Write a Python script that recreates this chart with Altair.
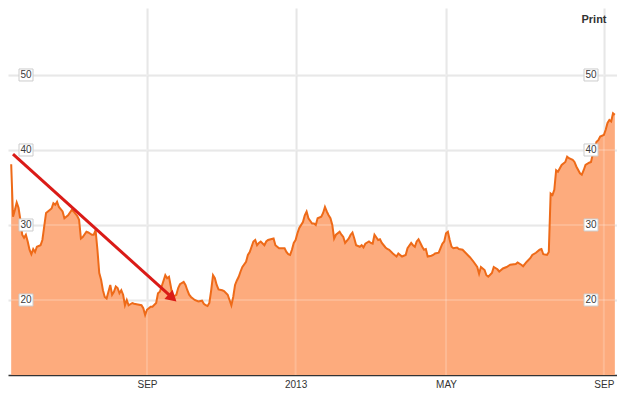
import altair as alt
import pandas as pd

# Trading-day number (0 = first trading day shown) and closing price
trading_day = [
    0, 1, 2, 3, 4, 5, 6, 7, 8, 9, 10, 11, 12, 13, 14, 16, 17, 18, 19, 21,
    22, 23, 24, 25, 26, 28, 29, 31, 33, 34, 36, 37, 38, 39, 41, 42, 44, 45, 46, 47,
    48, 49, 50, 51, 52, 53, 54, 55, 56, 57, 58, 59, 60, 61, 62, 63, 64, 66, 67, 69,
    71, 72, 73, 74, 76, 77, 79, 80, 81, 82, 84, 85, 86, 87, 88, 90, 91, 92, 94, 95,
    96, 97, 98, 100, 102, 104, 105, 106, 107, 108, 109, 110, 111, 112, 113, 115, 116, 118, 119, 120,
    121, 122, 123, 124, 125, 126, 128, 129, 130, 132, 133, 134, 135, 136, 138, 139, 140, 143, 144, 146,
    149, 150, 151, 152, 153, 154, 155, 156, 157, 159, 160, 161, 162, 164, 165, 166, 167, 169, 170, 171,
    172, 173, 174, 175, 176, 177, 179, 180, 181, 182, 184, 185, 186, 187, 188, 190, 191, 192, 193, 195,
    196, 197, 198, 200, 201, 202, 204, 205, 206, 208, 209, 210, 211, 213, 215, 216, 218, 219, 220, 221,
    222, 223, 224, 225, 226, 227, 229, 230, 231, 233, 234, 235, 236, 237, 238, 239, 240, 241, 243, 244,
    246, 248, 250, 252, 254, 255, 256, 258, 259, 260, 262, 263, 265, 266, 268, 270, 272, 275, 276, 278,
    279, 281, 283, 284, 286, 288, 289, 290, 292, 293, 294, 295, 296, 297, 298, 300, 302, 303, 304, 306,
    307, 308, 310, 311, 312, 313, 315, 316, 317, 319, 320, 321, 323, 324, 325, 326, 327, 328, 329,
]
close = [
    38.1, 31.1, 32.0, 33.0, 32.3, 30.7, 28.7, 28.3, 28.7, 27.8, 26.7, 26.1, 26.8, 26.4, 27.1, 27.3, 28.0, 29.8, 31.6, 32.0,
    32.2, 32.9, 32.7, 33.1, 32.4, 31.8, 30.9, 31.3, 32.0, 31.8, 31.2, 30.7, 28.2, 28.4, 29.1, 29.0, 28.7, 28.7, 29.3, 26.7,
    23.6, 22.7, 21.3, 20.4, 20.2, 21.1, 22.0, 20.7, 21.1, 21.8, 21.6, 20.9, 21.3, 20.7, 19.3, 20.0, 19.3, 19.6, 19.5, 19.4,
    19.3, 18.9, 18.0, 18.7, 19.1, 19.1, 19.6, 20.9, 21.1, 21.8, 23.3, 22.9, 23.1, 21.8, 20.4, 20.7, 21.6, 22.1, 22.4, 22.0,
    21.3, 20.7, 20.4, 20.0, 19.8, 19.9, 19.5, 19.3, 19.2, 19.6, 21.3, 23.3, 22.9, 22.0, 21.4, 21.3, 21.2, 20.7, 20.0, 19.3,
    20.4, 22.0, 22.6, 23.1, 23.8, 24.4, 25.1, 26.0, 26.4, 27.8, 28.0, 27.3, 27.6, 27.8, 27.3, 27.8, 28.0, 28.2, 27.3, 26.9,
    26.9, 26.4, 26.1, 26.0, 26.7, 27.6, 28.0, 28.9, 29.6, 30.4, 31.3, 31.8, 30.9, 30.2, 30.2, 30.0, 30.9, 31.1, 31.6, 32.4,
    31.8, 31.3, 30.9, 30.0, 28.2, 28.7, 29.1, 28.7, 28.4, 27.6, 28.2, 28.7, 29.0, 28.2, 27.3, 27.1, 27.3, 27.0, 27.5, 27.8,
    27.6, 27.5, 28.7, 28.0, 28.1, 27.6, 27.0, 26.8, 26.7, 26.2, 26.0, 25.8, 26.2, 25.8, 26.0, 26.9, 27.6, 27.3, 27.1, 27.8,
    28.1, 27.6, 27.1, 26.7, 26.8, 25.8, 25.9, 26.0, 26.2, 26.3, 26.9, 27.5, 27.8, 28.9, 29.1, 28.0, 27.1, 26.9, 27.0, 26.8,
    26.7, 26.2, 25.7, 25.1, 24.4, 23.5, 24.4, 24.0, 23.3, 23.1, 23.6, 24.4, 24.1, 23.8, 24.2, 24.4, 24.7, 24.8, 25.0, 24.7,
    24.5, 25.1, 25.6, 26.0, 26.3, 26.7, 26.8, 26.1, 26.0, 26.4, 34.2, 34.0, 34.7, 37.3, 37.1, 38.0, 38.4, 39.1, 38.9, 38.7,
    38.4, 37.8, 36.9, 36.7, 37.3, 38.0, 38.3, 38.4, 39.5, 41.1, 41.3, 41.8, 42.0, 42.7, 43.6, 44.0, 43.8, 44.9, 44.7,
]
assert len(trading_day) == len(close)

tick_days = [74, 155, 237, 323]
tick_labels = ["SEP", "2013", "MAY", "SEP"]
grid_values = [20, 30, 40, 50]

# Red arrow annotation (in data units: trading day, price)
arrow_from_day = [0.985]
arrow_from_price = [39.46]
arrow_to_day = [87.9]
arrow_to_price = [20.27]

X_DOMAIN = [-1.74, 330.17]
Y_DOMAIN = [10, 58.93]

ORANGE_LINE = "#EE6A18"
ORANGE_FILL = "#FDAB7D"
RED = "#DA1B17"
GRID = "#e3e3e3"
FONT = "Liberation Sans"

df = pd.DataFrame({"day": trading_day, "close": close})
labels_df = pd.DataFrame({"v": grid_values})
ticks_df = pd.DataFrame({"d": tick_days})
arrow_df = pd.DataFrame({
    "x": arrow_from_day, "y": arrow_from_price,
    "x2": arrow_to_day, "y2": arrow_to_price,
})

xs = alt.Scale(domain=X_DOMAIN, nice=False, zero=False)
ys = alt.Scale(domain=Y_DOMAIN, nice=False, zero=False)

label_expr = " : ".join(
    f"datum.value == {d} ? '{l}'" for d, l in zip(tick_days, tick_labels)
) + " : ''"

x_axis = alt.Axis(
    values=tick_days, labelExpr=label_expr, title=None,
    grid=True, gridColor=GRID, gridWidth=2,
    domain=True, domainColor="#333333", domainWidth=1.5,
    ticks=False, labelFont=FONT, labelFontSize=10, labelColor="#333333",
    labelPadding=4, labelAngle=0,
)
y_axis = alt.Axis(
    values=grid_values, labels=False, ticks=False, domain=False, title=None,
    grid=True, gridColor=GRID, gridWidth=2,
)

area = alt.Chart(df).mark_area(color=ORANGE_FILL, opacity=1).encode(
    x=alt.X("day:Q", scale=xs, axis=x_axis),
    y=alt.Y("close:Q", scale=ys, axis=y_axis),
    y2=alt.datum(10),
)

# faint grid showing through the filled area
vgrid = alt.Chart(ticks_df).mark_rule(color="white", opacity=0.18, strokeWidth=2).encode(
    x=alt.X("d:Q", scale=xs, axis=x_axis),
)
hgrid = alt.Chart(labels_df).mark_rule(color="white", opacity=0.18, strokeWidth=2).encode(
    y=alt.Y("v:Q", scale=ys, axis=y_axis),
)

line = alt.Chart(df).mark_line(color=ORANGE_LINE, strokeWidth=2).encode(
    x=alt.X("day:Q", scale=xs, axis=x_axis),
    y=alt.Y("close:Q", scale=ys, axis=y_axis),
)

arrow = alt.Chart(arrow_df).mark_rule(color=RED, strokeWidth=3).encode(
    x=alt.X("x:Q", scale=xs, axis=x_axis),
    y=alt.Y("y:Q", scale=ys, axis=y_axis),
    x2="x2:Q",
    y2="y2:Q",
)

head = alt.Chart(arrow_df).mark_point(
    shape="triangle-right", filled=True, size=150, angle=42, color=RED, opacity=1
).encode(
    x=alt.X("x2:Q", scale=xs, axis=x_axis),
    y=alt.Y("y2:Q", scale=ys, axis=y_axis),
)


def label_layer(x_left, x_right, x_text):
    box = alt.Chart(labels_df).transform_calculate(
        lo="datum.v - 0.8", hi="datum.v + 0.8"
    ).mark_rect(fill="white", stroke="#cccccc", strokeWidth=1).encode(
        x=alt.value(x_left), x2=alt.value(x_right),
        y=alt.Y("lo:Q", scale=ys, axis=y_axis), y2="hi:Q",
    )
    txt = alt.Chart(labels_df).mark_text(
        font=FONT, fontSize=10, color="#3a3a3a"
    ).encode(
        x=alt.value(x_text),
        y=alt.Y("v:Q", scale=ys, axis=y_axis),
        text="v:Q",
    )
    return box + txt


left_labels = label_layer(11, 25, 18)
right_labels = label_layer(576, 590, 583)

print_txt = alt.Chart(pd.DataFrame({"t": ["Print"]})).mark_text(
    font=FONT, fontSize=11, fontWeight="bold", color="#333333"
).encode(x=alt.value(586), y=alt.value(12), text="t:N")

chart = alt.layer(
    area, vgrid, hgrid, line, arrow, head, left_labels, right_labels, print_txt
).properties(
    width=609, height=367, background="white",
    autosize=alt.AutoSizeParams(type="none"),
    padding={"left": 0, "top": 0, "right": 0, "bottom": 13},
).configure_view(stroke=None)

chart.save("out.html", embed_options={"renderer": "svg", "actions": False})
